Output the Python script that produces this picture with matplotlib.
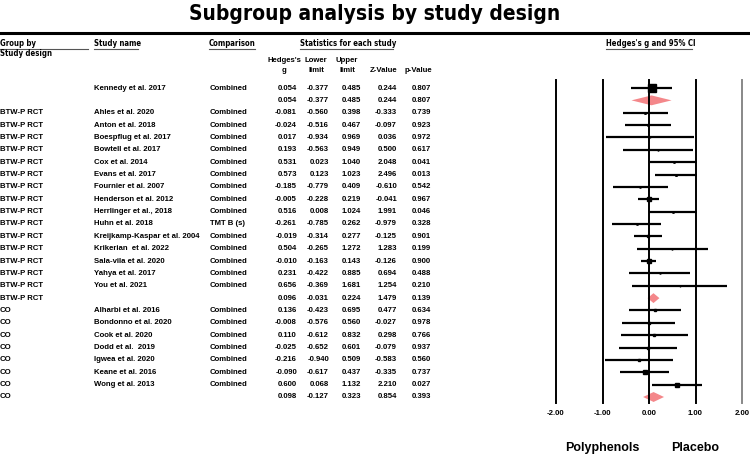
import numpy as np
import matplotlib
matplotlib.use('Agg')
import matplotlib.pyplot as plt
import matplotlib.transforms as mtransforms
from matplotlib.patches import Polygon

# data, one entry per row of the table (empty study name = subgroup summary)
groups = [''] * 2 + ['BTW-P RCT'] * 16 + ['CO'] * 8
studies = ['Kennedy et al. 2017', '',
           'Ahles et al. 2020', 'Anton et al. 2018', 'Boespflug et al. 2017',
           'Bowtell et al. 2017', 'Cox et al. 2014', 'Evans et al. 2017',
           'Fournier et al. 2007', 'Henderson et al. 2012', 'Herrlinger et al., 2018',
           'Huhn et al. 2018', 'Kreijkamp-Kaspar et al. 2004', 'Krikerian  et al. 2022',
           'Sala-vila et al. 2020', 'Yahya et al. 2017', 'You et al. 2021', '',
           'Alharbi et al. 2016', 'Bondonno et al. 2020', 'Cook et al. 2020',
           'Dodd et al.  2019', 'Igwea et al. 2020', 'Keane et al. 2016',
           'Wong et al. 2013', '']
comparisons = ['Combined', ''] + ['Combined'] * 9 + ['TMT B (s)'] + ['Combined'] * 5 + [''] \
    + ['Combined'] * 7 + ['']
hedges_g = [0.054, 0.054, -0.081, -0.024, 0.017, 0.193, 0.531, 0.573, -0.185, -0.005,
            0.516, -0.261, -0.019, 0.504, -0.010, 0.231, 0.656, 0.096,
            0.136, -0.008, 0.110, -0.025, -0.216, -0.090, 0.600, 0.098]
lower = [-0.377, -0.377, -0.560, -0.516, -0.934, -0.563, 0.023, 0.123, -0.779, -0.228,
         0.008, -0.785, -0.314, -0.265, -0.163, -0.422, -0.369, -0.031,
         -0.423, -0.576, -0.612, -0.652, -0.940, -0.617, 0.068, -0.127]
upper = [0.485, 0.485, 0.398, 0.467, 0.969, 0.949, 1.040, 1.023, 0.409, 0.219,
         1.024, 0.262, 0.277, 1.272, 0.143, 0.885, 1.681, 0.224,
         0.695, 0.560, 0.832, 0.601, 0.509, 0.437, 1.132, 0.323]
z_value = [0.244, 0.244, -0.333, -0.097, 0.036, 0.500, 2.048, 2.496, -0.610, -0.041,
           1.991, -0.979, -0.125, 1.283, -0.126, 0.694, 1.254, 1.479,
           0.477, -0.027, 0.298, -0.079, -0.583, -0.335, 2.210, 0.854]
p_value = [0.807, 0.807, 0.739, 0.923, 0.972, 0.617, 0.041, 0.013, 0.542, 0.967,
           0.046, 0.328, 0.901, 0.199, 0.900, 0.488, 0.210, 0.139,
           0.634, 0.978, 0.766, 0.937, 0.560, 0.737, 0.027, 0.393]
ticks = [-2.0, -1.0, 0.0, 1.0, 2.0]

n = len(studies)
g_arr = np.array(hedges_g)
lo_arr = np.array(lower)
hi_arr = np.array(upper)

# relative (inverse variance) weight inside each subgroup -> square size
inv_var = 1.0 / (hi_arr - lo_arr) ** 2
rel_w = np.zeros(n)
for grp in set(groups):
    idx = [i for i in range(n) if groups[i] == grp and studies[i]]
    rel_w[idx] = inv_var[idx] / inv_var[idx].sum()

# layout in pixels
row0, step = 88, 12.36
SANS = ['Liberation Sans', 'DejaVu Sans']
BODY = dict(fontsize=5.6, fontweight='bold', family=SANS)
HEAD = dict(fontsize=5.6, fontweight='bold', family=['DejaVu Sans'], fontstretch='condensed')

fig = plt.figure(figsize=(7.5, 4.55), dpi=100)
tax = fig.add_axes([0, 0, 1, 1])
tax.set_xlim(0, 750)
tax.set_ylim(455, 0)
tax.axis('off')

tax.text(375, 14, 'Subgroup analysis by study design', ha='center', va='center',
         fontsize=15, fontweight='bold', family=['DejaVu Sans'], fontstretch='condensed')
tax.plot([0, 750], [33, 33], color='black', lw=2.2)

# column headers with underlines
for x, x1, label in [(0, 88, 'Group by'), (94, 138, 'Study name'),
                     (209, 255, 'Comparison'), (300, 393, 'Statistics for each study'),
                     (606, 692, "Hedges's g and 95% CI")]:
    tax.text(x, 44, label, ha='left', va='center', **HEAD)
    tax.plot([x, x1], [49, 49], color='#555555', lw=0.8)
tax.text(0, 54, 'Study design', ha='left', va='center', **HEAD)

num_cols = [297, 329, 361, 397, 431]
head_centers = [284, 316, 347, 384, 418]
sub_heads = [("Hedges's", 'g'), ('Lower', 'limit'), ('Upper', 'limit'), ('', 'Z-Value'), ('', 'p-Value')]
for x, (h1, h2) in zip(head_centers, sub_heads):
    tax.text(x, 61, h1, ha='center', va='center', **BODY)
    tax.text(x, 71, h2, ha='center', va='center', **BODY)

# table rows
for i in range(n):
    y = row0 + i * step
    tax.text(0, y, groups[i], ha='left', va='center', **BODY)
    tax.text(94, y, studies[i], ha='left', va='center', **BODY)
    tax.text(210, y, comparisons[i], ha='left', va='center', **BODY)
    for x, v in zip(num_cols, [hedges_g[i], lower[i], upper[i], z_value[i], p_value[i]]):
        tax.text(x, y, f'{v:.3f}', ha='right', va='center', **BODY)

# forest plot
fax = fig.add_axes([556 / 750, (455 - 403) / 455, 186 / 750, 323 / 455])
fax.set_xlim(-2, 2)
fax.set_ylim((403 - row0) / step, (80 - row0) / step)
for t in ticks:
    fax.axvline(t, color='#888888' if t == 2 else 'black', lw=1.4, clip_on=False)

for i in range(n):
    if studies[i]:
        fax.hlines(i, lower[i], upper[i], color='black', lw=1.6)
        fax.plot(hedges_g[i], i, marker='s', color='black',
                 markersize=5.2 * np.sqrt(rel_w[i]), lw=0)
    else:
        h = 0.4
        fax.add_patch(Polygon([[lower[i], i], [hedges_g[i], i - h], [upper[i], i],
                               [hedges_g[i], i + h]], closed=True,
                              facecolor='#F4878A', edgecolor='none'))

fax.set_xticks(ticks)
fax.set_xticklabels([f'{t:.2f}' for t in ticks], fontsize=5.6, fontweight='bold', family=SANS)
fax.tick_params(axis='x', length=0, pad=5)
fax.set_yticks([])
for s in fax.spines.values():
    s.set_visible(False)
fax.patch.set_alpha(0)

trans = mtransforms.blended_transform_factory(fax.transData, tax.transData)
tax.text(-1, 448, 'Polyphenols', transform=trans, ha='center', va='center',
         fontsize=9, fontweight='bold', family=SANS)
tax.text(1, 448, 'Placebo', transform=trans, ha='center', va='center',
         fontsize=9, fontweight='bold', family=SANS)

fig.savefig('out.png', dpi=100)
